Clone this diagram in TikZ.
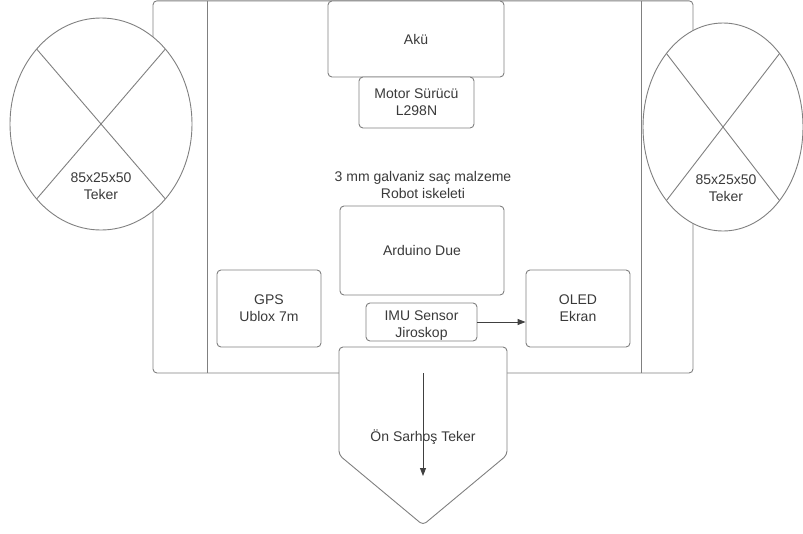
\documentclass[tikz,border=0pt]{standalone}
\usepackage{fontspec}
\setmainfont{Liberation Sans}
\usetikzlibrary{arrows.meta,shapes.geometric}
\definecolor{linegray}{HTML}{808080}
\definecolor{textgray}{HTML}{3A3A3A}
\begin{document}
\begin{tikzpicture}[x=1pt,y=-1pt,
  every node/.style={text=textgray,font=\fontsize{14}{17}\selectfont,align=center},
  box/.style={draw=linegray,line width=0.9pt,rounded corners=4pt,fill=white,inner sep=0pt},
  frame/.style={draw=linegray,line width=0.9pt},
  conn/.style={draw=black!75,line width=0.9pt,-{Triangle[length=8pt,width=6pt]}}]
\useasboundingbox[fill=white] (0,0) rectangle (803,533);
% chassis
\draw[frame,rounded corners=4pt] (153,0.8) rectangle (693,373);
\draw[frame] (207,0.8) -- (207,373);
\draw[frame] (641,0.8) -- (641,373);
% left wheel
\coordinate (lw) at (101,124);
\draw[frame,fill=white] (lw) ellipse [x radius=91,y radius=106];
\draw[frame] (lw) +(45:91 and 106) -- +(225:91 and 106);
\draw[frame] (lw) +(135:91 and 106) -- +(315:91 and 106);
\node (lwt) at (101,186) {85x25x50\\Teker};
% right wheel
\coordinate (rw) at (723,127);
\draw[frame,fill=white] (rw) ellipse [x radius=80,y radius=104];
\draw[frame] (rw) +(45:80 and 104) -- +(225:80 and 104);
\draw[frame] (rw) +(135:80 and 104) -- +(315:80 and 104);
\node (rwt) at (726,188) {85x25x50\\Teker};
% boxes
\node[box,minimum width=176,minimum height=76] (aku) at (416,39) {Akü};
\node[box,minimum width=115,minimum height=51] (motor) at (416.5,102.5) {Motor Sürücü\\L298N};
\node (label) at (423,185) {3 mm galvaniz saç malzeme\\Robot iskeleti};
\node[box,minimum width=164,minimum height=89] (ard) at (422,250.5) {Arduino Due};
\node[box,minimum width=104,minimum height=77] (gps) at (269,308.5) {GPS\\Ublox 7m};
\node[box,minimum width=104,minimum height=77] (oled) at (578,308.5) {OLED\\Ekran};
\node[box,minimum width=111,minimum height=38] (imu) at (421.5,322) {};
\node (imut) at (421.5,326) {IMU Sensor\\Jiroskop};
\draw[conn] (imu.east) -- (imu.east -| oled.west);
% front caster
\draw[frame,fill=white,rounded corners=4pt] (339,347) -- (507,347) -- (507,455) -- (423,525) -- (339,455) -- cycle;
\node (caster) at (423,437) {Ön Sarhoş Teker};
\coordinate (ca) at (423,373);
\coordinate (cb) at (423,476);
\draw[conn] (ca) -- (cb);
\end{tikzpicture}
\end{document}
